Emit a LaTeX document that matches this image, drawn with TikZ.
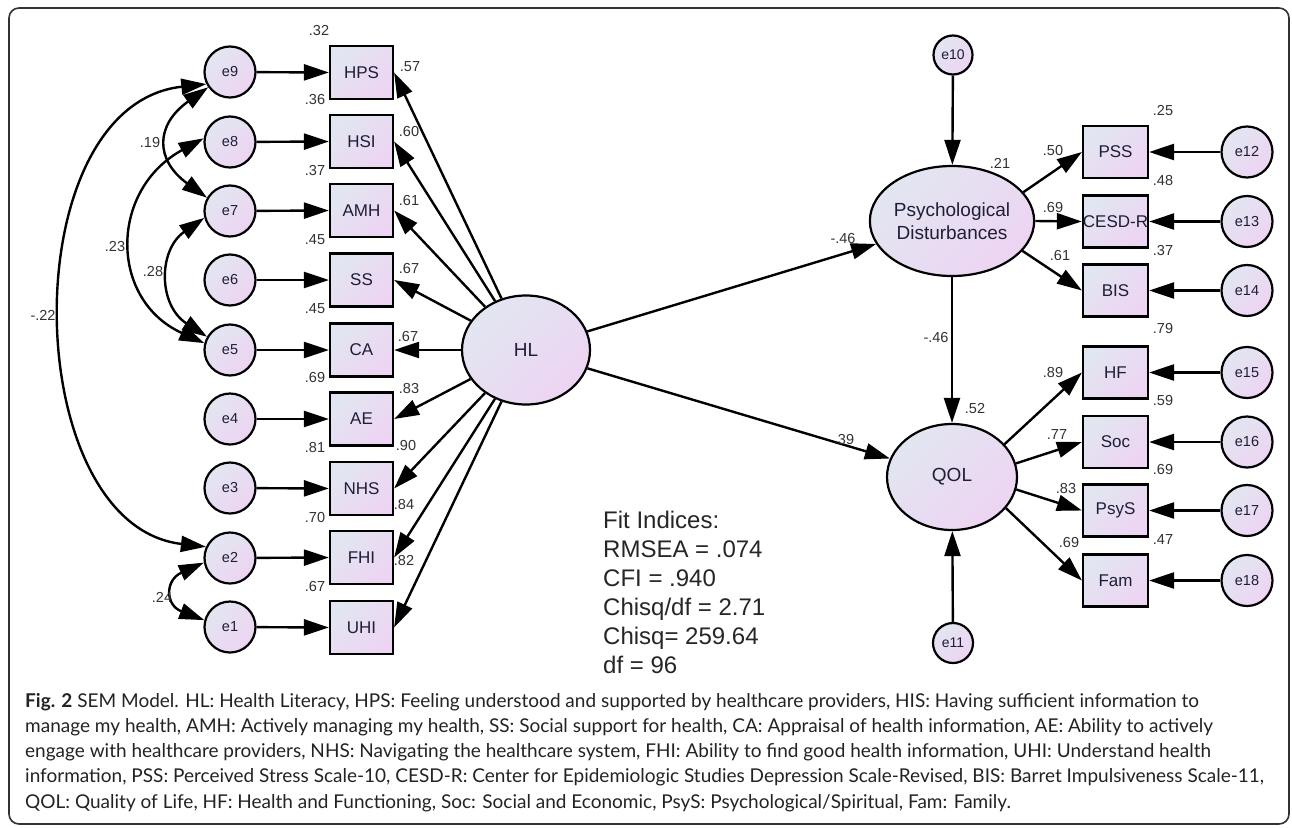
\documentclass[tikz,border=0pt]{standalone}
\usepackage{fontspec}
\setmainfont{Liberation Sans}
\newfontfamily\capfont{Lato}
\usetikzlibrary{arrows.meta,shapes.geometric}

\definecolor{fillA}{RGB}{226,230,241}
\definecolor{fillB}{RGB}{237,212,242}
\definecolor{txtc}{RGB}{30,30,55}
\definecolor{coefc}{RGB}{50,50,50}
\definecolor{capc}{RGB}{35,35,35}
\definecolor{framec}{RGB}{50,50,50}

\tikzset{
  shadefill/.style={top color=fillA, bottom color=fillB, shading angle=45},
  obsbox/.style={draw=black, line width=2.2pt, minimum width=63pt, minimum height=53pt, inner sep=0pt, shadefill, font=\fontsize{17}{20}\selectfont, text=txtc},
  obsboxr/.style={obsbox, minimum width=65pt, minimum height=52pt},
  errc/.style={circle, draw=black, line width=2.2pt, minimum size=51pt, inner sep=0pt, shadefill, font=\fontsize{14.5}{17}\selectfont, text=txtc},
  errs/.style={errc, minimum size=39pt, font=\fontsize{14}{17}\selectfont},
  latent/.style={ellipse, draw=black, line width=2.2pt, inner sep=0pt, shadefill, font=\fontsize{19}{23}\selectfont, text=txtc, align=center},
  arr/.style={line width=2.4pt, -{Triangle[length=25pt,width=16pt]}},
  covarr/.style={line width=2.4pt, {Triangle[length=25pt,width=16pt]}-{Triangle[length=25pt,width=16pt]}},
  coef/.style={font=\fontsize{14.5}{17}\selectfont, text=coefc, inner sep=0pt},
  fitline/.style={font=\fontsize{24}{29}\selectfont, text=black!85, anchor=base west, inner sep=0pt},
  captxt/.style={font=\capfont\fontsize{19}{25}\selectfont, text=capc, anchor=base west, inner sep=0pt},
}

\begin{document}
\begin{tikzpicture}[x=1pt,y=-1pt]
\useasboundingbox (0,0) rectangle (1292,827);
\fill[white] (0,0) rectangle (1292,827);
\draw[line width=1.6pt, draw=framec, rounded corners=10pt] (9,8) rectangle (1289,824);

% left error terms
\node[errc] (e9) at (230,72) {e9};
\node[errc] (e8) at (230,142) {e8};
\node[errc] (e7) at (230,211) {e7};
\node[errc] (e6) at (230,280) {e6};
\node[errc] (e5) at (230,350) {e5};
\node[errc] (e4) at (230,419) {e4};
\node[errc] (e3) at (230,488) {e3};
\node[errc] (e2) at (230,558) {e2};
\node[errc] (e1) at (230,627) {e1};

% left indicators
\node[obsbox] (HPS) at (361.5,72.5) {HPS};
\node[obsbox] (HSI) at (361.5,141.5) {HSI};
\node[obsbox] (AMH) at (361.5,210.5) {AMH};
\node[obsbox] (SS) at (361.5,280) {SS};
\node[obsbox] (CA) at (361.5,350) {CA};
\node[obsbox] (AE) at (361.5,419) {AE};
\node[obsbox] (NHS) at (361.5,488.5) {NHS};
\node[obsbox] (FHI) at (361.5,557.5) {FHI};
\node[obsbox] (UHI) at (361.5,627.5) {UHI};

% latent variables
\node[latent, minimum width=128pt, minimum height=109pt] (HL) at (526,350) {HL};
\node[latent, minimum width=130pt, minimum height=110pt] (PD) at (952,221) {Psychological\\Disturbances};
\node[latent, minimum width=130pt, minimum height=106pt] (QOL) at (952,477) {QOL};
\node[errs] (e10) at (953,55) {e10};
\node[errs, minimum size=40pt] (e11) at (953,643) {e11};

% right indicators
\node[obsboxr] (PSS) at (1115.5,152) {PSS};
\node[obsboxr] (CESDR) at (1115.5,221.5) {CESD-R};
\node[obsboxr] (BIS) at (1115.5,290.5) {BIS};
\node[obsboxr] (HF) at (1115.5,372.5) {HF};
\node[obsboxr] (Soc) at (1115.5,442) {Soc};
\node[obsboxr] (PsyS) at (1115.5,510.5) {PsyS};
\node[obsboxr] (Fam) at (1115.5,580.5) {Fam};

\node[errc] (e12) at (1247,152) {e12};
\node[errc] (e13) at (1247,221.5) {e13};
\node[errc] (e14) at (1247,290.5) {e14};
\node[errc] (e15) at (1247,372.5) {e15};
\node[errc] (e16) at (1247,442) {e16};
\node[errc] (e17) at (1247,510.5) {e17};
\node[errc] (e18) at (1247,580.5) {e18};

% error -> indicator arrows (left)
\foreach \e/\b in {e9/HPS,e8/HSI,e7/AMH,e6/SS,e5/CA,e4/AE,e3/NHS,e2/FHI,e1/UHI}
  \draw[arr] (\e) -- (\b.west);

% HL -> indicators
\foreach \b in {HPS,HSI,AMH,SS,CA,AE,NHS,FHI,UHI}
  \draw[arr] (HL) -- (\b.east);

% structural paths
\draw[arr] (HL) -- (PD);
\draw[arr] (HL) -- (QOL);
\draw[arr] (e10) -- (PD);
\draw[arr] (e11) -- (QOL);
\draw[arr] (PD.south) -- (QOL.north);

% PD -> indicators
\draw[arr] (PD.22) -- (PSS.west);
\draw[arr] (PD.east) -- (CESDR.west);
\draw[arr] (PD.-23) -- (BIS.west);
% QOL -> indicators
\draw[arr] (QOL.32) -- (HF.west);
\draw[arr] (QOL.12) -- (Soc.west);
\draw[arr] (QOL.-11) -- (PsyS.west);
\draw[arr] (QOL.-30) -- (Fam.west);

% right error -> indicator
\foreach \e/\b in {e12/PSS,e13/CESDR,e14/BIS,e15/HF,e16/Soc,e17/PsyS,e18/Fam}
  \draw[arr] (\e) -- (\b.east);

% covariances
\draw[covarr] (e9.207) .. controls (12,105) and (18,525) .. (e2.155);
\draw[covarr] (e9.215) .. controls (155,125) and (155,160) .. (e7.150);
\draw[covarr] (e8.172) .. controls (109,190) and (109,300) .. (e5.165);
\draw[covarr] (e7.195) .. controls (158,250) and (158,305) .. (e5.150);
\draw[covarr] (e2.190) .. controls (165,580) and (165,605) .. (e1.165);

% coefficients: squared multiple correlations (left)
\node[coef] (r1) at (319,31) {.32};
\node[coef] (r2) at (315,100) {.36};
\node[coef] (r3) at (315,171) {.37};
\node[coef] (r4) at (315,240) {.45};
\node[coef] (r5) at (315,309) {.45};
\node[coef] (r6) at (315,378) {.69};
\node[coef] (r7) at (315,448) {.81};
\node[coef] (r8) at (315,518) {.70};
\node[coef] (r9) at (315,586) {.67};
% loadings (left)
\node[coef] (l1) at (410,67) {.57};
\node[coef] (l2) at (409,132) {.60};
\node[coef] (l3) at (409,201) {.61};
\node[coef] (l4) at (409,269) {.67};
\node[coef] (l5) at (408,337) {.67};
\node[coef] (l6) at (409,389) {.83};
\node[coef] (l7) at (406,446) {.90};
\node[coef] (l8) at (404,505) {.84};
\node[coef] (l9) at (404,561) {.82};
% covariances
\node[coef] (c1) at (150,143) {.19};
\node[coef] (c2) at (115,247) {.23};
\node[coef] (c3) at (153,272) {.28};
\node[coef] (c4) at (43,315) {-.22};
\node[coef] (c5) at (162,597) {.24};
% structural
\node[coef] (s1) at (843,239) {-.46};
\node[coef] (s2) at (844,440) {.39};
\node[coef] (s3) at (936,338) {-.46};
\node[coef] (s4) at (1000,163) {.21};
\node[coef] (s5) at (975,409) {.52};
% right
\node[coef] (p1) at (1053,151) {.50};
\node[coef] (p2) at (1053,208) {.69};
\node[coef] (p3) at (1060,256) {.61};
\node[coef] (p4) at (1163,111) {.25};
\node[coef] (p5) at (1163,181) {.48};
\node[coef] (p6) at (1163,251) {.37};
\node[coef] (q1) at (1053,373) {.89};
\node[coef] (q2) at (1057,435) {.77};
\node[coef] (q3) at (1066,489) {.83};
\node[coef] (q4) at (1069,543) {.69};
\node[coef] (q5) at (1163,329) {.79};
\node[coef] (q6) at (1163,401) {.59};
\node[coef] (q7) at (1163,470) {.69};
\node[coef] (q8) at (1163,540) {.47};

% fit indices
\node[fitline] (f1) at (603,528) {Fit Indices:};
\node[fitline] (f2) at (603,557) {RMSEA = .074};
\node[fitline] (f3) at (603,586) {CFI = .940};
\node[fitline] (f4) at (603,615) {Chisq/df = 2.71};
\node[fitline] (f5) at (603,644) {Chisq= 259.64};
\node[fitline] (f6) at (603,673) {df = 96};

% caption
\node[captxt] (cap1) at (25,707) {\textbf{Fig. 2} SEM Model. HL: Health Literacy, HPS: Feeling understood and supported by healthcare providers, HIS: Having sufficient information to};
\node[captxt] (cap2) at (25,732.3) {manage my health, AMH: Actively managing my health, SS: Social support for health, CA: Appraisal of health information, AE: Ability to actively};
\node[captxt] (cap3) at (25,757.6) {engage with healthcare providers, NHS: Navigating the healthcare system, FHI: Ability to find good health information, UHI: Understand health};
\node[captxt] (cap4) at (25,782.9) {information, PSS: Perceived Stress Scale-10, CESD-R: Center for Epidemiologic Studies Depression Scale-Revised, BIS: Barret Impulsiveness Scale-11,};
\node[captxt] (cap5) at (25,808.2) {QOL: Quality of Life, HF: Health and Functioning, Soc: Social and Economic, PsyS: Psychological/Spiritual, Fam: Family.};
\end{tikzpicture}
\end{document}
